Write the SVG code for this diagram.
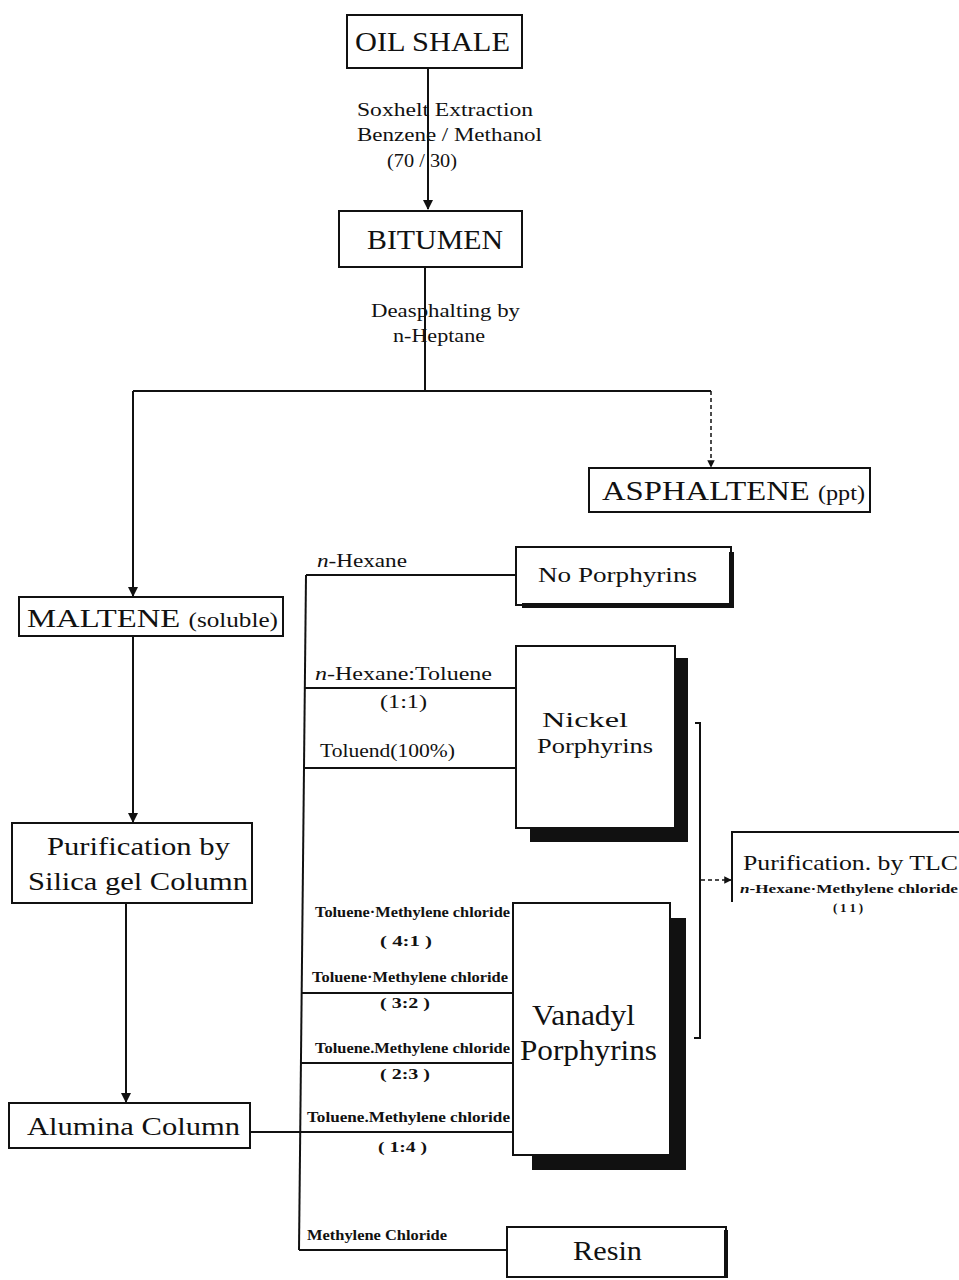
<svg xmlns="http://www.w3.org/2000/svg" width="959" height="1280" viewBox="0 0 959 1280">
<style>
text{font-family:"Liberation Serif","Times New Roman",serif;fill:#111}
.box{fill:#fff;stroke:#111;stroke-width:2}
.ln{fill:none;stroke:#111;stroke-width:2}
.dl{fill:none;stroke:#111;stroke-width:1.5;stroke-dasharray:4 3}
.sh{fill:#111}
.lbl{font-size:19px}
.sm{font-size:14px;font-weight:bold}
</style>
<defs>
<marker id="ah" viewBox="0 0 10 10" refX="9" refY="5" markerWidth="5" markerHeight="5" orient="auto"><path d="M0,0L10,5L0,10z" fill="#111"/></marker>
</defs>
<g id="connectors">
<line class="ln" x1="428" y1="68" x2="428" y2="209" marker-end="url(#ah)"/>
<line class="ln" x1="425" y1="267" x2="425" y2="391"/>
<polyline class="ln" points="133,391 711,391"/>
<line class="ln" x1="133" y1="391" x2="133" y2="596" marker-end="url(#ah)"/>
<line class="dl" x1="711" y1="391" x2="711" y2="467" marker-end="url(#ah)"/>
<line class="ln" x1="133" y1="637" x2="133" y2="822" marker-end="url(#ah)"/>
<line class="ln" x1="126" y1="903" x2="126" y2="1102" marker-end="url(#ah)"/>
<line class="ln" x1="250" y1="1132" x2="513" y2="1132"/>
<line class="ln" x1="306" y1="575" x2="299" y2="1250"/>
<line class="ln" x1="306" y1="575" x2="516" y2="575"/>
<line class="ln" x1="305" y1="688" x2="516" y2="688"/>
<line class="ln" x1="304" y1="768" x2="516" y2="768"/>
<line class="ln" x1="302" y1="993" x2="513" y2="993"/>
<line class="ln" x1="301" y1="1063" x2="513" y2="1063"/>
<line class="ln" x1="299" y1="1250" x2="507" y2="1250"/>
<polyline class="ln" points="695,723 700,723 700,1038 694,1038"/>
<line class="dl" x1="701" y1="880" x2="731" y2="880" marker-end="url(#ah)"/>
</g>
<g id="oil-shale">
<rect class="box" x="347" y="15" width="175" height="53"/>
<text x="355" y="51" font-size="28" textLength="155" lengthAdjust="spacingAndGlyphs">OIL SHALE</text>
</g>
<g id="extraction-label">
<text class="lbl" x="357" y="116" textLength="176" lengthAdjust="spacingAndGlyphs">Soxhelt Extraction</text>
<text class="lbl" x="357" y="141" textLength="185" lengthAdjust="spacingAndGlyphs">Benzene / Methanol</text>
<text class="lbl" x="387" y="167" textLength="70" lengthAdjust="spacingAndGlyphs">(70 / 30)</text>
</g>
<g id="bitumen">
<rect class="box" x="339" y="211" width="183" height="56"/>
<text x="367" y="249" font-size="27" textLength="136" lengthAdjust="spacingAndGlyphs">BITUMEN</text>
</g>
<g id="deasphalting-label">
<text class="lbl" x="371" y="317" textLength="149" lengthAdjust="spacingAndGlyphs">Deasphalting by</text>
<text class="lbl" x="393" y="342" textLength="92" lengthAdjust="spacingAndGlyphs">n-Heptane</text>
</g>
<g id="asphaltene">
<rect class="box" x="589" y="468" width="281" height="44"/>
<text x="602" y="500" font-size="27" textLength="263" lengthAdjust="spacingAndGlyphs">ASPHALTENE <tspan font-size="20">(ppt)</tspan></text>
</g>
<g id="maltene">
<rect class="box" x="19" y="597" width="264" height="39"/>
<text x="27" y="627" font-size="26" textLength="251" lengthAdjust="spacingAndGlyphs">MALTENE <tspan font-size="20">(soluble)</tspan></text>
</g>
<g id="silica">
<rect class="box" x="12" y="823" width="240" height="80"/>
<text x="47" y="855" font-size="25" textLength="183" lengthAdjust="spacingAndGlyphs">Purification by</text>
<text x="28" y="890" font-size="25" textLength="220" lengthAdjust="spacingAndGlyphs">Silica gel Column</text>
</g>
<g id="alumina">
<rect class="box" x="9" y="1103" width="241" height="45"/>
<text x="27" y="1135" font-size="26" textLength="213" lengthAdjust="spacingAndGlyphs">Alumina Column</text>
</g>
<g id="no-porphyrins">
<rect class="box" x="516" y="547" width="215" height="58"/>
<rect class="sh" x="729" y="552" width="5" height="55"/>
<rect class="sh" x="522" y="603" width="212" height="5"/>
<text x="538" y="582" font-size="22" textLength="159" lengthAdjust="spacingAndGlyphs">No Porphyrins</text>
</g>
<g id="nickel">
<rect class="sh" x="675" y="658" width="13" height="184"/>
<rect class="sh" x="530" y="828" width="158" height="14"/>
<rect class="box" x="516" y="646" width="159" height="182"/>
<text x="542" y="727" font-size="22" textLength="86" lengthAdjust="spacingAndGlyphs">Nickel</text>
<text x="537" y="753" font-size="22" textLength="116" lengthAdjust="spacingAndGlyphs">Porphyrins</text>
</g>
<g id="vanadyl">
<rect class="sh" x="669" y="918" width="17" height="252"/>
<rect class="sh" x="532" y="1154" width="154" height="16"/>
<rect class="box" x="513" y="903" width="157" height="252"/>
<text x="532" y="1025" font-size="30" textLength="103" lengthAdjust="spacingAndGlyphs">Vanadyl</text>
<text x="520" y="1060" font-size="30" textLength="137" lengthAdjust="spacingAndGlyphs">Porphyrins</text>
</g>
<g id="resin">
<rect class="box" x="507" y="1227" width="219" height="50"/>
<rect class="sh" x="724" y="1230" width="4" height="48"/>
<text x="573" y="1260" font-size="28" textLength="69" lengthAdjust="spacingAndGlyphs">Resin</text>
</g>
<g id="tlc">
<polyline class="ln" points="959,832 732,832 732,902"/>
<text x="743" y="870" font-size="22" textLength="215" lengthAdjust="spacingAndGlyphs">Purification. by TLC</text>
<text x="740" y="893" font-size="13" font-weight="bold" textLength="218" lengthAdjust="spacingAndGlyphs"><tspan font-style="italic">n</tspan>-Hexane·Methylene chloride</text>
<text x="833" y="912" font-size="13" font-weight="bold" textLength="30" lengthAdjust="spacing">( 1 1 )</text>
</g>
<g id="solvent-labels">
<text class="lbl" x="317" y="567" textLength="90" lengthAdjust="spacingAndGlyphs"><tspan font-style="italic">n</tspan>-Hexane</text>
<text class="lbl" x="315" y="680" textLength="177" lengthAdjust="spacingAndGlyphs"><tspan font-style="italic">n</tspan>-Hexane:Toluene</text>
<text class="lbl" x="380" y="708" textLength="47" lengthAdjust="spacingAndGlyphs">(1:1)</text>
<text class="lbl" x="320" y="757" textLength="135" lengthAdjust="spacingAndGlyphs">Toluend(100%)</text>
<text class="sm" x="315" y="917" textLength="195" lengthAdjust="spacingAndGlyphs">Toluene·Methylene chloride</text>
<text class="sm" x="380" y="946" textLength="52" lengthAdjust="spacingAndGlyphs">( 4:1 )</text>
<text class="sm" x="312" y="982" textLength="196" lengthAdjust="spacingAndGlyphs">Toluene·Methylene chloride</text>
<text class="sm" x="380" y="1008" textLength="50" lengthAdjust="spacingAndGlyphs">( 3:2 )</text>
<text class="sm" x="315" y="1053" textLength="195" lengthAdjust="spacingAndGlyphs">Toluene.Methylene chloride</text>
<text class="sm" x="380" y="1079" textLength="50" lengthAdjust="spacingAndGlyphs">( 2:3 )</text>
<text class="sm" x="307" y="1122" textLength="203" lengthAdjust="spacingAndGlyphs">Toluene.Methylene chloride</text>
<text class="sm" x="378" y="1152" textLength="49" lengthAdjust="spacingAndGlyphs">( 1:4 )</text>
<text class="sm" x="307" y="1240" textLength="140" lengthAdjust="spacingAndGlyphs">Methylene Chloride</text>
</g>
</svg>
